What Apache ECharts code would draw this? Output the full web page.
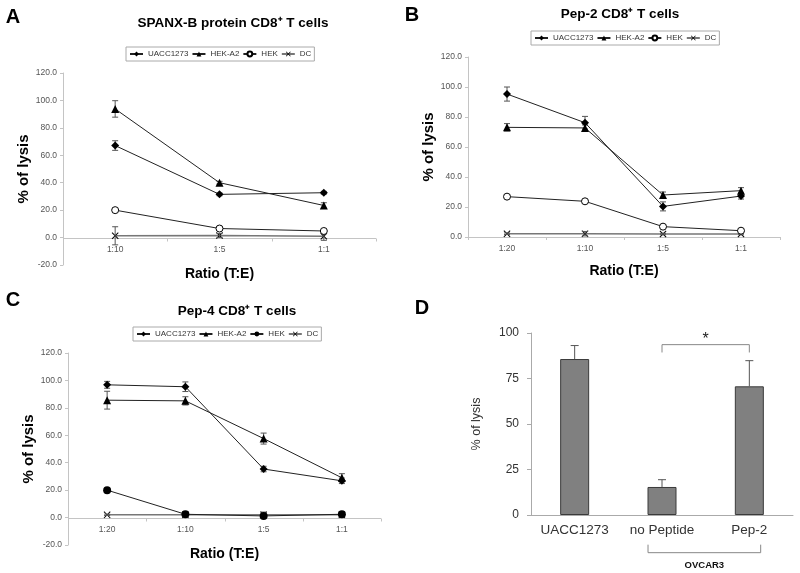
<!DOCTYPE html>
<html><head><meta charset="utf-8">
<script src="https://cdn.jsdelivr.net/npm/echarts@6/dist/echarts.min.js"></script>
<style>html,body{margin:0;padding:0;background:#fff}#c{width:800px;height:573px}</style>
</head><body><div id="c"></div>
<script>
// ---------- data ----------
const seriesNames = ['UACC1273', 'HEK-A2', 'HEK', 'DC'];
const catsA = ['1:10', '1:5', '1:1'];
const catsBC = ['1:20', '1:10', '1:5', '1:1'];
const catsD = ['UACC1273', 'no Peptide', 'Pep-2'];

// Panel A: SPANX-B protein
const aUACC = [67.1, 31.5, 32.7];
const aUACCErr = [3.5, 1.0, 1.0];
const aHEKA2 = [93.8, 40.0, 23.4];
const aHEKA2Err = [6.0, 1.0, 2.0];
const aHEK = [20.0, 6.6, 4.8];
const aHEKErr = [0.5, 0.5, 0.5];
const aDC = [1.3, 1.5, 1.0];
const aDCErr = [6.6, 1.5, 3.0];

// Panel B: Pep-2
const bUACC = [95.3, 76.2, 20.4, 27.3];
const bUACCErr = [4.7, 4.2, 3.0, 2.0];
const bHEKA2 = [73.1, 72.7, 28.0, 30.9];
const bHEKA2Err = [2.5, 2.0, 2.0, 2.0];
const bHEK = [26.9, 23.8, 6.9, 4.2];
const bHEKErr = [0.5, 0.5, 0.5, 0.5];
const bDC = [2.2, 2.2, 2.0, 2.0];
const bDCErr = [0.5, 1.5, 0.5, 0.5];

// Panel C: Pep-4
const cUACC = [96.8, 95.4, 35.4, 26.8];
const cUACCErr = [2.5, 3.5, 2.0, 2.0];
const cHEKA2 = [85.6, 85.1, 57.6, 29.0];
const cHEKA2Err = [6.5, 3.0, 4.0, 3.0];
const cHEK = [20.0, 2.4, 1.2, 2.4];
const cHEKErr = [0.5, 0.5, 0.5, 0.5];
const cDC = [2.0, 2.0, 2.0, 2.0];
const cDCErr = [0.5, 0.5, 2.0, 0.5];

// Panel D: OVCAR3
const dValues = [85.7, 15.4, 70.7];
const dErr = [7.4, 4.0, 14.1];

// ---------- helpers ----------
const FONT = 'Arial, "Liberation Sans", sans-serif';
const XPATH = 'path://M0,1L1,0L5,4L9,0L10,1L6,5L10,9L9,10L5,6L1,10L0,9L4,5Z';
const axisGray = '#c4c4c4';

function errData(vals, errs, upOnly) {
  return vals.map((v, i) => [i, upOnly ? v : v - errs[i], v + errs[i], upOnly ? 1 : 0]);
}
function errRender(params, api) {
  const i = api.value(0);
  const lo = api.coord([i, api.value(1)]);
  const hi = api.coord([i, api.value(2)]);
  const upOnly = api.value(3) === 1;
  const w = upOnly ? 4 : 3;
  const style = { stroke: '#555', lineWidth: 1, fill: null };
  const ch = [
    { type: 'line', shape: { x1: lo[0], y1: lo[1], x2: hi[0], y2: hi[1] }, style },
    { type: 'line', shape: { x1: hi[0] - w, y1: hi[1], x2: hi[0] + w, y2: hi[1] }, style }
  ];
  if (!upOnly) ch.push({ type: 'line', shape: { x1: lo[0] - w, y1: lo[1], x2: lo[0] + w, y2: lo[1] }, style });
  return { type: 'group', children: ch };
}
// category axis line drawn at value 0 (Excel style crossing), with ticks at category boundaries
function zeroAxisRender(params, api) {
  const cs = params.coordSys;
  const y = Math.round(api.coord([0, 0])[1]) + 0.5;
  const n = api.value(1);
  const bw = cs.width / n;
  const style = { stroke: axisGray, lineWidth: 1, fill: null };
  const ch = [{ type: 'line', shape: { x1: cs.x, y1: y, x2: cs.x + cs.width, y2: y }, style }];
  for (let k = 0; k <= n; k++) {
    const x = Math.round(cs.x + k * bw) + 0.5;
    ch.push({ type: 'line', shape: { x1: x, y1: y, x2: x, y2: y + 3 }, style });
  }
  return { type: 'group', children: ch };
}

const markerDefs = {
  'UACC1273': { symbol: 'diamond', size: 8, fill: '#000', line: '#222', lw: 1 },
  'HEK-A2': { symbol: 'triangle', size: 8, fill: '#000', line: '#222', lw: 1 },
  'HEK': { symbol: 'circle', size: 7, fill: '#fff', line: '#222', lw: 1 },
  'HEK_filled': { symbol: 'circle', size: 8, fill: '#000', line: '#222', lw: 1 },
  'DC': { symbol: XPATH, size: 7, fill: '#000', line: '#777', lw: 1.5 }
};

const series = [];
function addPanel(prefix, idx, sets, hekFilled, zeroAxisCats) {
  if (zeroAxisCats) {
    series.push({
      type: 'custom', name: prefix + '|axis0', xAxisIndex: idx, yAxisIndex: idx, clip: false,
      data: [[0, zeroAxisCats.length]], renderItem: zeroAxisRender, z: 1, silent: true
    });
  }
  sets.forEach(([name, vals, errs]) => {
    series.push({
      type: 'custom', name: prefix + '|err|' + name, xAxisIndex: idx, yAxisIndex: idx,
      data: errData(vals, errs, false), renderItem: errRender, z: 3, silent: true
    });
  });
  sets.forEach(([name, vals]) => {
    const m = markerDefs[(name === 'HEK' && hekFilled) ? 'HEK_filled' : name];
    series.push({
      type: 'line', name: prefix + '|' + name, xAxisIndex: idx, yAxisIndex: idx, data: vals,
      symbol: m.symbol, symbolSize: m.size, showAllSymbol: true,
      itemStyle: { color: m.fill, borderColor: '#000', borderWidth: m.fill === '#fff' ? 1 : 0 },
      lineStyle: { color: m.line, width: m.lw },
      z: name === 'DC' ? 2 : 4, silent: true
    });
  });
}
addPanel('A', 0, [['UACC1273', aUACC, aUACCErr], ['HEK-A2', aHEKA2, aHEKA2Err], ['HEK', aHEK, aHEKErr], ['DC', aDC, aDCErr]], false, catsA);
addPanel('B', 1, [['UACC1273', bUACC, bUACCErr], ['HEK-A2', bHEKA2, bHEKA2Err], ['HEK', bHEK, bHEKErr], ['DC', bDC, bDCErr]], false, null);
addPanel('C', 2, [['UACC1273', cUACC, cUACCErr], ['HEK-A2', cHEKA2, cHEKA2Err], ['HEK', cHEK, cHEKErr], ['DC', cDC, cDCErr]], true, catsBC);

// Panel D bars
series.push({
  type: 'bar', name: 'D|bars', xAxisIndex: 3, yAxisIndex: 3, data: dValues, barWidth: 29,
  itemStyle: { color: '#808080', borderColor: '#3a3a3a', borderWidth: 1 }, silent: true
});
series.push({
  type: 'custom', name: 'D|err', xAxisIndex: 3, yAxisIndex: 3, data: errData(dValues, dErr, true),
  renderItem: errRender, z: 3, silent: true
});
// significance bracket between categories 1 and 2
series.push({
  type: 'custom', name: 'D|sig', xAxisIndex: 3, yAxisIndex: 3, clip: false, silent: true,
  data: [[1, 2, 89.3, 93.6, 98.5]],
  renderItem: function (params, api) {
    const a = api.coord([api.value(0), api.value(2)]);
    const a2 = api.coord([api.value(0), api.value(3)]);
    const b = api.coord([api.value(1), api.value(2)]);
    const b2 = api.coord([api.value(1), api.value(3)]);
    const t = api.coord([api.value(0), api.value(4)]);
    return { type: 'group', children: [
      { type: 'polyline', shape: { points: [a, a2, b2, b] }, style: { stroke: '#888', lineWidth: 1, fill: null } },
      { type: 'text', style: { text: '*', x: (a[0] + b[0]) / 2, y: t[1] + 4, align: 'center', verticalAlign: 'middle', font: '16px ' + FONT, fill: '#222' } }
    ] };
  }
});
// OVCAR3 group bracket under categories 1 and 2
series.push({
  type: 'custom', name: 'D|grp', xAxisIndex: 3, yAxisIndex: 3, clip: false, silent: true,
  data: [[1, 2, -16.3, -20.7, -27.6]],
  renderItem: function (params, api) {
    const bw = api.size([1, 0])[0];
    const a = api.coord([api.value(0), api.value(2)]);
    const a2 = api.coord([api.value(0), api.value(3)]);
    const b = api.coord([api.value(1), api.value(2)]);
    const b2 = api.coord([api.value(1), api.value(3)]);
    const t = api.coord([api.value(0), api.value(4)]);
    const xl = a[0] - bw * 0.16, xr = b[0] + bw * 0.13;
    return { type: 'group', children: [
      { type: 'polyline', shape: { points: [[xl, a[1]], [xl, a2[1]], [xr, b2[1]], [xr, b[1]]] }, style: { stroke: '#888', lineWidth: 1, fill: null } },
      { type: 'text', style: { text: 'OVCAR3', x: (xl + xr) / 2, y: t[1], align: 'center', verticalAlign: 'middle', font: 'bold 9.5px ' + FONT, fill: '#111' } }
    ] };
  }
});

function xCat(idx, cats, nameGap, labelMargin, ownLine) {
  return {
    type: 'category', gridIndex: idx, data: cats, boundaryGap: true,
    axisLine: { show: ownLine, onZero: false, lineStyle: { color: axisGray } },
    axisTick: { show: ownLine, length: 3, lineStyle: { color: axisGray } },
    axisLabel: { fontSize: 8.5, color: '#555', margin: labelMargin, interval: 0, fontFamily: FONT },
    name: 'Ratio (T:E)', nameLocation: 'middle', nameGap: nameGap,
    nameTextStyle: { fontSize: 14, fontWeight: 'bold', color: '#000', fontFamily: FONT }
  };
}
function yVal(idx, min, nameGap) {
  return {
    type: 'value', gridIndex: idx, min: min, max: 120, interval: 20,
    axisLine: { show: true, onZero: false, lineStyle: { color: axisGray } },
    axisTick: { show: true, length: 3, lineStyle: { color: axisGray } },
    splitLine: { show: false },
    axisLabel: { fontSize: 8.5, color: '#555', margin: 6, fontFamily: FONT, formatter: v => v.toFixed(1) },
    name: '% of lysis', nameLocation: 'middle', nameGap: nameGap, nameRotate: 90,
    nameTextStyle: { fontSize: 15, fontWeight: 'bold', color: '#000', fontFamily: FONT }
  };
}
function legendFor(prefix, left, top) {
  return {
    left: left, top: top, orient: 'horizontal', selectedMode: false,
    data: seriesNames.map(n => prefix + '|' + n),
    formatter: n => n.split('|')[1],
    itemWidth: 13, itemHeight: 6, itemGap: 3, padding: [3, 3],
    borderColor: '#aaa', borderWidth: 1,
    textStyle: { fontSize: 8, color: '#333', fontFamily: FONT }
  };
}

const option = {
  animation: false,
  backgroundColor: '#fff',
  grid: [
    { left: 63, top: 73, width: 313, height: 192 },
    { left: 468, top: 57, width: 312, height: 180 },
    { left: 68, top: 353, width: 313, height: 192 },
    { left: 531, top: 333, width: 262, height: 182 }
  ],
  xAxis: [
    xCat(0, catsA, -9, -20, false),
    xCat(1, catsBC, 27, 7, true),
    xCat(2, catsBC, 0, -20, false),
    {
      type: 'category', gridIndex: 3, data: catsD,
      axisLine: { lineStyle: { color: '#aaa' } }, axisTick: { show: false },
      axisLabel: { fontSize: 13.5, color: '#333', margin: 8, interval: 0, fontFamily: FONT }
    }
  ],
  yAxis: [
    yVal(0, -20, 30),
    yVal(1, 0, 29),
    yVal(2, -20, 29),
    {
      type: 'value', gridIndex: 3, min: 0, max: 100, interval: 25,
      axisLine: { show: true, lineStyle: { color: '#aaa' } },
      axisTick: { show: true, length: 4, lineStyle: { color: '#aaa' } },
      splitLine: { show: false },
      axisLabel: { fontSize: 12, color: '#333', margin: 12, fontFamily: FONT },
      name: '% of lysis', nameLocation: 'middle', nameGap: 48, nameRotate: 90,
      nameTextStyle: { fontSize: 12.5, color: '#333', fontFamily: FONT }
    }
  ],
  legend: [legendFor('A', 126, 47), legendFor('B', 531, 31), legendFor('C', 133, 327)],
  graphic: [
    { type: 'text', style: { text: 'A', x: 13, y: 17, align: 'center', verticalAlign: 'middle', font: 'bold 20px ' + FONT, fill: '#000' } },
    { type: 'text', style: { text: 'B', x: 412, y: 15, align: 'center', verticalAlign: 'middle', font: 'bold 20px ' + FONT, fill: '#000' } },
    { type: 'text', style: { text: 'C', x: 13, y: 300, align: 'center', verticalAlign: 'middle', font: 'bold 20px ' + FONT, fill: '#000' } },
    { type: 'text', style: { text: 'D', x: 422, y: 308, align: 'center', verticalAlign: 'middle', font: 'bold 20px ' + FONT, fill: '#000' } },
    { type: 'text', style: { text: 'SPANX-B protein CD8\u207A T cells', x: 233, y: 23, align: 'center', verticalAlign: 'middle', font: 'bold 13.5px ' + FONT, fill: '#000' } },
    { type: 'text', style: { text: 'Pep-2 CD8\u207A T cells', x: 620, y: 14, align: 'center', verticalAlign: 'middle', font: 'bold 13.5px ' + FONT, fill: '#000' } },
    { type: 'text', style: { text: 'Pep-4 CD8\u207A T cells', x: 237, y: 311, align: 'center', verticalAlign: 'middle', font: 'bold 13.5px ' + FONT, fill: '#000' } }
  ],
  series: series
};
const chart = echarts.init(document.getElementById('c'), null, { renderer: 'canvas' });
chart.setOption(option);
</script>
</body></html>
